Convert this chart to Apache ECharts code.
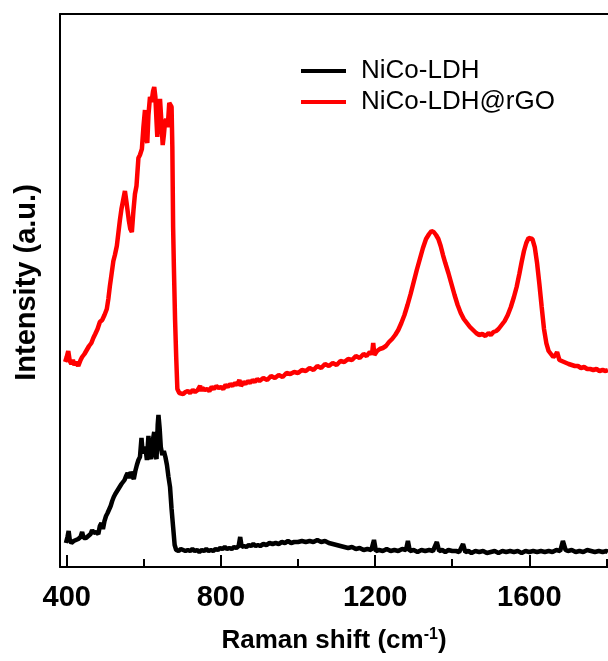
<!DOCTYPE html>
<html><head><meta charset="utf-8">
<script src="https://cdn.jsdelivr.net/npm/echarts@6/dist/echarts.min.js"></script>
<style>html,body{margin:0;padding:0;background:#fff}#c{width:608px;height:661px}</style>
</head><body><div id="c"></div>
<script>
const seriesNames = ['NiCo-LDH', 'NiCo-LDH@rGO'];
const majorTicks = [400, 800, 1200, 1600];
const minorTicks = [600, 1000, 1400, 1800];
const xTitle = 'Raman shift (cm';
const yTitle = 'Intensity (a.u.)';
// [Raman shift (cm-1), intensity (a.u.)]
const ldhData = [[398,24],[402,30],[405,36],[408,27],[412,24],[418,26],[424,27],[430,28],[436,30],[440,35],[444,29],[450,29],[456,31],[462,33],[466,37],[470,34],[476,35],[482,33],[486,41],[490,44],[494,38],[498,46],[502,51],[506,54],[510,56],[514,61],[518,66],[522,70],[526,73],[530,75],[534,78],[538,80],[542,83],[546,85],[550,87],[554,91],[558,94],[562,89],[566,95],[570,97],[574,88],[578,96],[582,102],[586,107],[590,110],[594,129],[597,114],[600,112],[604,120],[608,107],[612,131],[615,112],[619,108],[623,126],[627,135],[630,112],[633,108],[636,142],[638,152],[641,139],[644,120],[648,112],[652,116],[656,110],[660,102],[664,90],[668,80],[672,58],[676,40],[680,22],[684,17],[690,16],[696,18],[702,17],[708,16],[714,17],[720,16],[726,18],[732,16],[738,17],[744,15],[750,17],[756,16],[762,18],[768,16],[774,17],[780,16],[786,18],[792,17],[798,19],[804,18],[810,20],[816,18],[822,19],[828,18],[834,20],[840,19],[846,21],[850,30],[854,20],[860,21],[866,20],[872,22],[878,21],[884,23],[890,21],[896,22],[902,21],[910,23],[918,22],[926,24],[934,23],[942,24],[950,23],[958,25],[966,24],[974,26],[982,24],[990,25],[1000,25],[1010,26],[1020,25],[1030,26],[1040,25],[1050,27],[1060,25],[1070,26],[1080,24],[1090,23],[1100,22],[1110,21],[1120,20],[1130,19],[1140,20],[1150,18],[1160,19],[1170,17],[1180,18],[1190,17],[1197,27],[1202,16],[1210,17],[1220,16],[1230,18],[1240,16],[1250,17],[1260,16],[1270,18],[1280,17],[1285,26],[1290,16],[1300,17],[1310,15],[1320,17],[1330,16],[1340,17],[1350,16],[1360,25],[1366,16],[1374,17],[1382,15],[1390,17],[1400,16],[1410,16],[1418,15],[1428,23],[1434,15],[1442,16],[1450,14],[1460,16],[1470,15],[1480,16],[1490,14],[1500,15],[1510,16],[1520,14],[1530,16],[1540,15],[1550,16],[1560,15],[1570,16],[1580,14],[1590,16],[1600,15],[1610,16],[1620,15],[1630,16],[1640,15],[1650,16],[1660,15],[1670,17],[1680,16],[1687,26],[1694,17],[1700,16],[1710,17],[1720,15],[1730,16],[1740,15],[1750,17],[1760,16],[1770,15],[1780,16],[1790,15],[1800,16],[1804,15]];
const rgoData = [[396,205],[400,210],[404,216],[408,206],[412,203],[416,207],[420,202],[425,205],[430,201],[436,207],[440,210],[446,213],[452,217],[458,221],[464,224],[469,229],[474,233],[480,238],[486,245],[492,247],[498,252],[504,258],[508,268],[512,281],[516,292],[521,306],[525,312],[530,321],[534,334],[538,347],[542,358],[546,366],[551,376],[555,365],[558,356],[561,347],[565,338],[569,335],[573,356],[577,373],[581,381],[586,409],[590,412],[595,418],[599,440],[603,457],[606,430],[609,424],[612,452],[616,470],[620,465],[624,476],[627,480],[630,470],[633,445],[635,430],[638,452],[642,468],[645,449],[649,422],[652,432],[655,445],[658,448],[662,440],[666,464],[669,462],[672,460],[674,420],[676,340],[678,300],[681,248],[684,210],[687,178],[692,174],[697,176],[702,173],[708,175],[714,176],[720,174],[727,177],[733,175],[740,177],[746,181],[750,176],[752,179],[758,177],[764,178],[770,176],[776,180],[782,178],[788,181],[794,179],[800,180],[806,178],[812,182],[818,180],[824,183],[830,181],[836,184],[842,182],[848,187],[852,181],[858,185],[864,183],[870,186],[876,184],[882,187],[888,185],[894,188],[900,186],[910,189],[920,187],[930,191],[940,189],[950,192],[960,190],[970,194],[980,193],[990,195],[1000,194],[1010,197],[1020,196],[1030,199],[1040,197],[1050,201],[1060,199],[1070,203],[1080,201],[1090,204],[1100,202],[1110,206],[1120,205],[1130,208],[1140,207],[1150,211],[1160,209],[1170,213],[1178,211],[1186,215],[1192,213],[1195,224],[1198,212],[1205,216],[1212,218],[1220,219],[1228,221],[1236,225],[1244,228],[1252,232],[1260,237],[1268,244],[1276,252],[1284,262],[1292,273],[1300,285],[1308,297],[1316,308],[1324,319],[1332,328],[1340,333],[1346,336],[1352,335],[1358,332],[1364,328],[1370,321],[1376,312],[1382,304],[1390,294],[1398,283],[1406,272],[1414,262],[1422,254],[1430,248],[1438,244],[1446,240],[1454,237],[1462,234],[1470,232],[1478,233],[1486,231],[1494,234],[1500,232],[1507,235],[1514,236],[1520,238],[1528,242],[1536,246],[1544,252],[1552,260],[1560,270],[1567,280],[1574,293],[1580,305],[1586,316],[1592,324],[1598,329],[1603,331],[1608,328],[1614,320],[1620,304],[1626,283],[1632,260],[1638,238],[1644,224],[1650,216],[1656,213],[1662,210],[1668,212],[1672,215],[1678,207],[1684,206],[1690,205],[1696,204],[1702,203],[1710,202],[1718,201],[1726,201],[1734,199],[1742,200],[1750,198],[1758,198],[1766,197],[1774,198],[1782,196],[1790,197],[1798,196],[1804,197]];

const FONT = 'Liberation Sans, Arial, sans-serif';
const xMin = 382.6, xMax = 1804;
const chart = echarts.init(document.getElementById('c'), null, {renderer: 'canvas'});
chart.setOption({
  animation: false,
  backgroundColor: '#fff',
  grid: {left: 60, right: 0, top: 14, bottom: 94},
  legend: {
    orient: 'vertical', left: 296, top: 53, itemGap: 5,
    icon: 'rect', itemWidth: 45, itemHeight: 4,
    textStyle: {fontFamily: FONT, fontSize: 26, color: '#000', padding: [0, 0, 0, 10]},
    data: seriesNames
  },
  xAxis: [
    {
      type: 'value', min: xMin, max: xMax, position: 'bottom',
      axisLine: {show: true, lineStyle: {color: '#000', width: 2}},
      axisTick: {show: true, inside: true, length: 12, lineStyle: {color: '#000', width: 2}, customValues: majorTicks},
      axisLabel: {show: true, margin: 16, fontFamily: FONT, fontSize: 29, fontWeight: 'bold', color: '#000',
        customValues: majorTicks, formatter: v => String(v)},
      splitLine: {show: false},
      name: xTitle + '{sup|-1})', nameLocation: 'middle', nameGap: 60,
      nameTextStyle: {fontFamily: FONT, fontSize: 26, fontWeight: 'bold', color: '#000',
        rich: {sup: {fontFamily: FONT, fontSize: 16, fontWeight: 'bold', color: '#000', verticalAlign: 'top', padding: [0, 0, 12, 0]}}}
    },
    {
      type: 'value', min: xMin, max: xMax, position: 'bottom',
      axisLine: {show: false},
      axisTick: {show: true, inside: true, length: 8, lineStyle: {color: '#000', width: 2}, customValues: minorTicks},
      axisLabel: {show: false}, splitLine: {show: false}
    },
    {
      type: 'value', min: xMin, max: xMax, position: 'top',
      axisLine: {show: true, lineStyle: {color: '#000', width: 2}},
      axisTick: {show: false}, axisLabel: {show: false}, splitLine: {show: false}
    }
  ],
  yAxis: {
    type: 'value', min: 0, max: 553,
    axisLine: {show: true, lineStyle: {color: '#000', width: 2}},
    axisTick: {show: false}, axisLabel: {show: false}, splitLine: {show: false},
    name: yTitle, nameLocation: 'middle', nameGap: 19,
    nameTextStyle: {fontFamily: FONT, fontSize: 29, fontWeight: 'bold', color: '#000', padding: [0, 0, 0, 16]}
  },
  series: [
    {name: seriesNames[0], type: 'line', xAxisIndex: 0, data: ldhData, showSymbol: false, symbol: 'none',
     color: '#000', lineStyle: {color: '#000', width: 4.5}},
    {name: seriesNames[1], type: 'line', xAxisIndex: 0, data: rgoData, showSymbol: false, symbol: 'none',
     color: '#ff0000', lineStyle: {color: '#ff0000', width: 4.5}}
  ]
});
</script></body></html>
